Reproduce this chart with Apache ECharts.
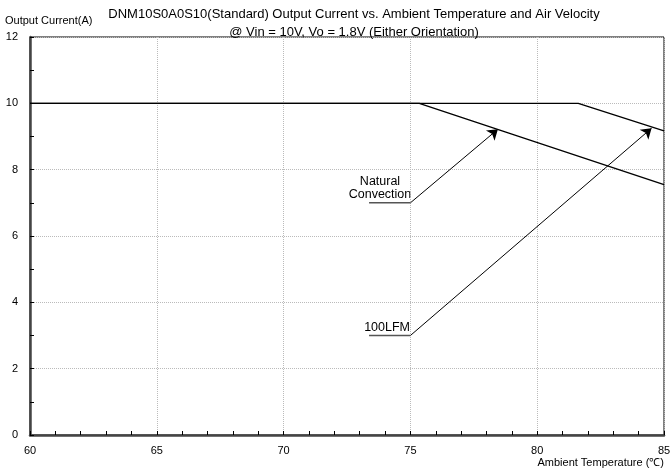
<!DOCTYPE html>
<html><head><meta charset="utf-8">
<script src="https://cdn.jsdelivr.net/npm/echarts@6/dist/echarts.min.js"></script>
<style>html,body{margin:0;padding:0;background:#fff}#c{width:670px;height:470px}</style>
</head><body><div id="c"></div>
<script>
const naturalConvection = [[60, 10], [75.35, 10], [85, 7.55]];
const lfm100 = [[60, 10], [81.62, 10], [85, 9.17]];
const leaderNC = [[73.37, 7], [75, 7]];
const arrowNC = [[75, 7], [78.45, 9.22]];
const leaderLFM = [[73.37, 3], [75, 3]];
const arrowLFM = [[75, 3], [84.51, 9.25]];
const xTicks = [60, 65, 70, 75, 80, 85];
const yTicks = [0, 2, 4, 6, 8, 10, 12];
const titleLine1 = 'DNM10S0A0S10(Standard) Output Current vs. Ambient Temperature and Air Velocity';
const titleLine2 = '@ Vin = 10V, Vo = 1.8V (Either Orientation)';

const chart = echarts.init(document.getElementById('c'), null, {renderer: 'canvas'});
const FONT = 'Liberation Sans, Arial, sans-serif';
const option = {
  animation: false,
  backgroundColor: '#fff',
  textStyle: {fontFamily: FONT},
  grid: {left: 30, right: 6, top: 37, bottom: 35, containLabel: false, outerBoundsMode: 'none',
    show: true, borderColor: '#000', borderWidth: 1, backgroundColor: 'transparent'},
  title: [
    {text: titleLine1, left: 349, top: 3, textAlign: 'center', textStyle: {fontSize: 13, fontWeight: 'normal', color: '#000', fontFamily: FONT}},
    {text: titleLine2, left: 349, top: 21, textAlign: 'center', textStyle: {fontSize: 13, fontWeight: 'normal', color: '#000', fontFamily: FONT}}
  ],
  xAxis: {
    type: 'value', min: xTicks[0], max: xTicks[xTicks.length - 1], interval: 5,
    axisLine: {show: true, lineStyle: {color: '#444', width: 2.5}},
    axisTick: {show: true, inside: true, length: 4, lineStyle: {color: '#000'}},
    minorTick: {show: true, splitNumber: 5, length: 4, lineStyle: {color: '#000'}},
    axisLabel: {fontSize: 11, color: '#000', margin: 10, fontFamily: FONT},
    splitLine: {show: true, lineStyle: {color: '#bbb', type: [1, 1], width: 1}},
    name: 'Ambient Temperature (℃)', nameLocation: 'end', nameGap: 0,
    nameTextStyle: {fontSize: 11, color: '#000', align: 'right', verticalAlign: 'top', padding: [22, 0, 0, 0], fontFamily: FONT}
  },
  yAxis: {
    type: 'value', min: yTicks[0], max: yTicks[yTicks.length - 1], interval: 2,
    axisLine: {show: true, lineStyle: {color: '#444', width: 2.5}},
    axisTick: {show: true, inside: true, length: 4, lineStyle: {color: '#000'}},
    minorTick: {show: true, splitNumber: 2, length: 4, lineStyle: {color: '#000'}},
    axisLabel: {fontSize: 11, color: '#000', margin: 12, fontFamily: FONT},
    splitLine: {show: true, lineStyle: {color: '#bbb', type: [1, 1], width: 1}},
    name: 'Output Current(A)', nameLocation: 'end', nameGap: 11,
    nameTextStyle: {fontSize: 11, color: '#000', align: 'left', padding: [0, 0, 0, -25], fontFamily: FONT}
  },
  series: [
    {type: 'line', data: naturalConvection, symbol: 'none', lineStyle: {color: '#000', width: 1.3}, z: 3},
    {type: 'line', data: lfm100, symbol: 'none', lineStyle: {color: '#000', width: 1.3}, z: 3},
    {type: 'line', data: leaderNC, symbol: 'none', lineStyle: {color: '#555', width: 1.5}, z: 4},
    {type: 'line', data: leaderLFM, symbol: 'none', lineStyle: {color: '#555', width: 1.5}, z: 4},
    {type: 'lines', coordinateSystem: 'cartesian2d', symbol: ['none', 'arrow'], symbolSize: 10,
      lineStyle: {color: '#000', width: 1, opacity: 1, curveness: 0}, z: 4,
      data: [{coords: arrowNC}, {coords: arrowLFM}]}
  ],
  graphic: [
    {type: 'text', x: 380, y: 175, style: {text: 'Natural\nConvection', font: '12.5px ' + FONT, fill: '#000', align: 'center', lineHeight: 13}},
    {type: 'text', x: 410, y: 321, style: {text: '100LFM', font: '12.5px ' + FONT, fill: '#000', align: 'right'}}
  ]
};
chart.setOption(option);
</script></body></html>
